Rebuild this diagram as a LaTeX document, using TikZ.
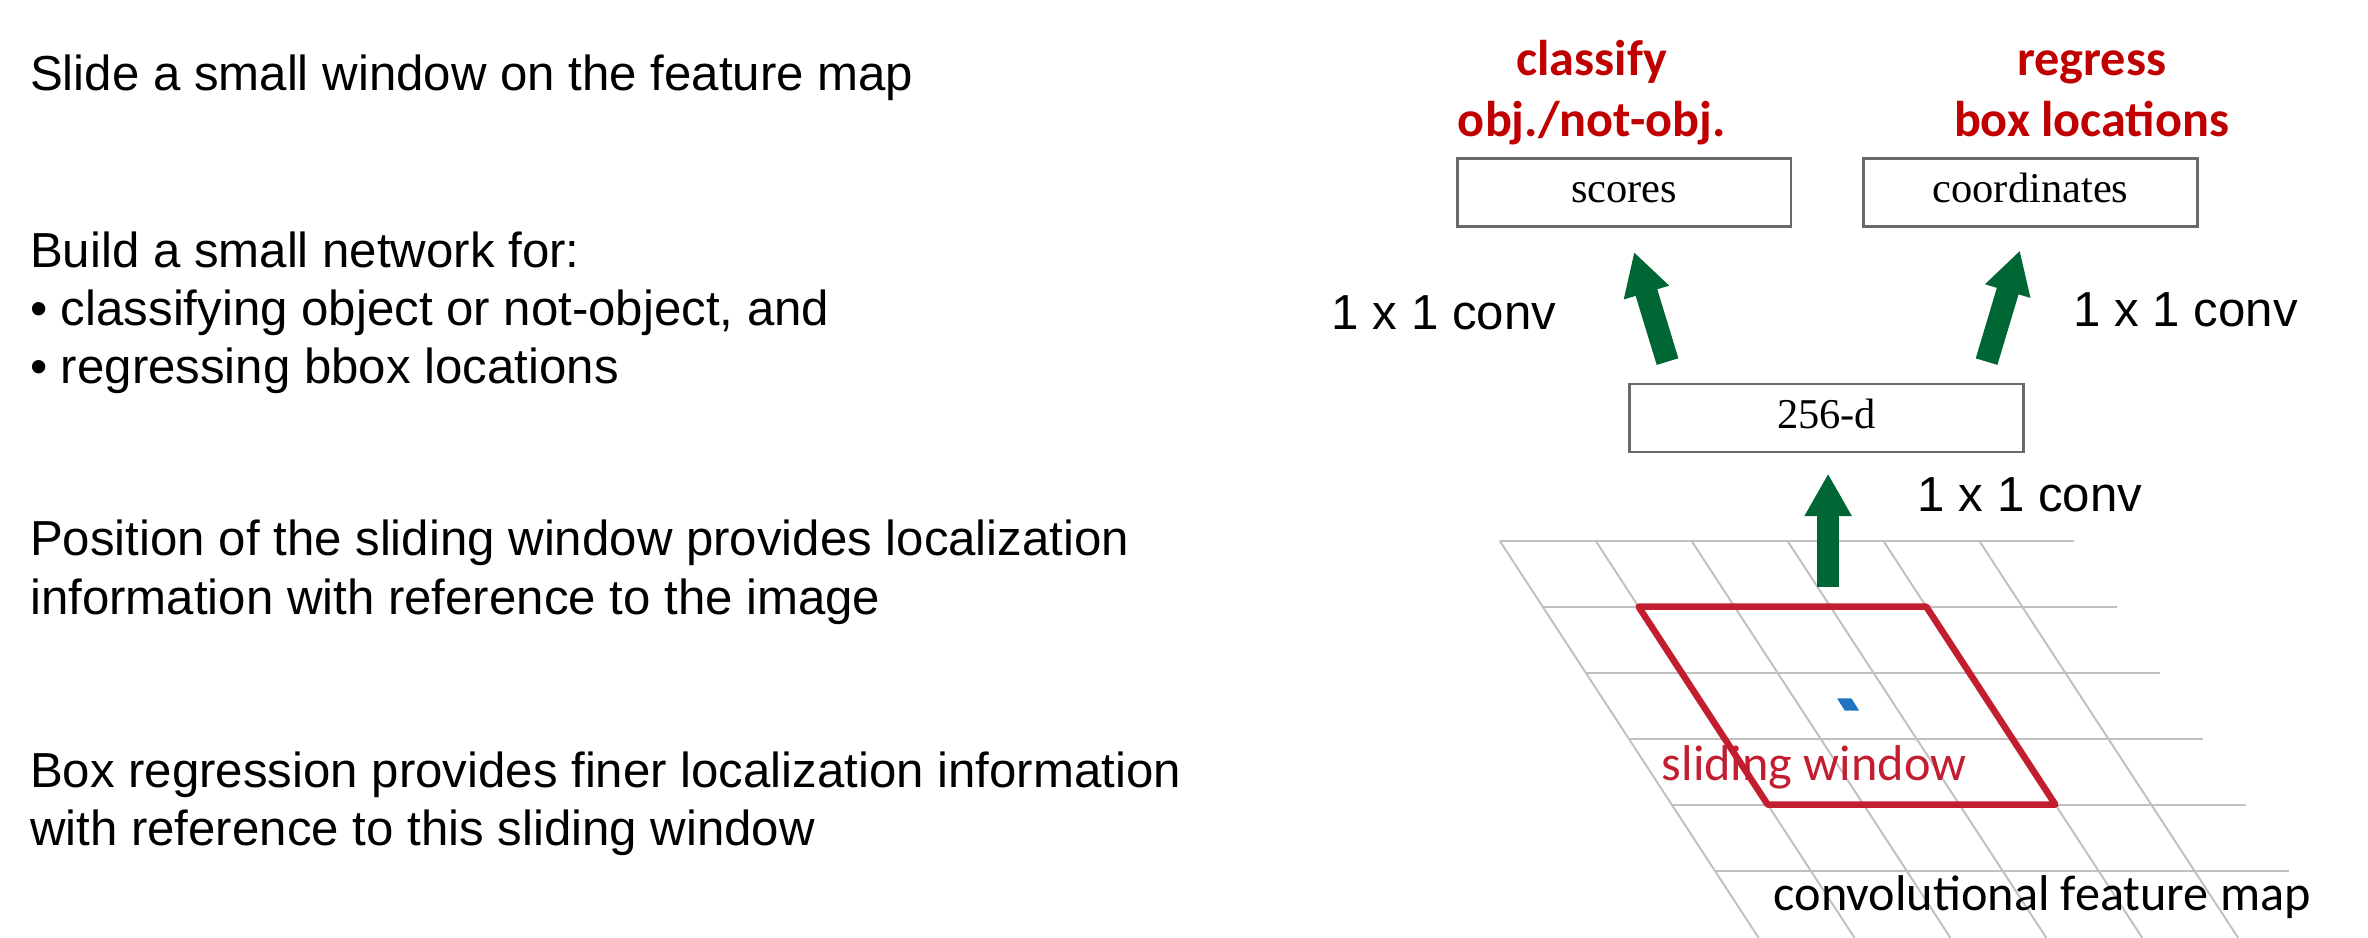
\documentclass[tikz,border=0pt]{standalone}
\usepackage{fontspec}
\setmainfont{Liberation Sans}
\newfontfamily\timesfont{Liberation Serif}
\newfontfamily\calfont{Carlito}
\usepackage{tikz}
\usetikzlibrary{arrows.meta, positioning}
\definecolor{rojo}{RGB}{192, 0, 0}
\definecolor{carmesi}{RGB}{194, 30, 48}
\definecolor{verde}{RGB}{0, 102, 51}
\definecolor{gris}{RGB}{192, 192, 192}
\definecolor{borde}{RGB}{105, 105, 105}
\definecolor{azul}{RGB}{30, 115, 195}
\tikzset{
    txt/.style={anchor=base west, inner sep=0pt, align=left, font=\fontsize{13.9}{16.43}\selectfont},
    caja/.style={draw=borde, line width=0.7pt, inner sep=0pt, minimum height=0.675cm, text height=8pt, text depth=2.3pt, font=\timesfont\fontsize{12}{14}\selectfont},
    rotulo/.style={rojo, align=center, inner sep=0pt, anchor=base, font=\calfont\bfseries\fontsize{14.2}{17.35}\selectfont},
    calib/.style={anchor=base west, inner sep=0pt, font=\calfont\fontsize{14.2}{17}\selectfont},
    flecha/.style={verde, line width=6.4pt, -{Triangle[width=12.5pt, length=12pt]}},
    rejilla/.style={gris, line width=0.55pt},
    ventana/.style={carmesi, line width=1.85pt, line join=round},
}

\begin{document}
\begin{tikzpicture}[x=0.015cm, y=-0.015cm]
        \useasboundingbox (0,0) rectangle (1568,621);

        % left column (base = last line)
        \node [txt] (p1) at (19.5,60) {Slide a small window on the feature map};
        \node [txt] (p2) at (19.5,254) {Build a small network for:\\
            • classifying object or not-object, and\\
            • regressing bbox locations};
        \node [txt] (p3) at (19.5,406.6) {Position of the sliding window provides localization\\
            information with reference to the image};
        \node [txt] (p4) at (19.5,559.8) {Box regression provides finer localization information\\
            with reference to this sliding window};

        % feature map grid
        \foreach \r in {0,...,5}
            \draw [rejilla] ({993+28.5*\r},{358+43.7*\r}) -- ++(380,0);
        \foreach \c in {0,...,5}
            \draw [rejilla] ({993+63.5*\c},358) -- ++(171.5,263);

        \draw [ventana] (1085,401.7) -- (1275.5,401.7) -- (1361,532.8) -- (1170.5,532.8) -- cycle;
        \fill [azul] (1216.5,462.5) -- (1226,462.5) -- (1231,470.5) -- (1221.5,470.5) -- cycle;

        \node [calib, carmesi] (sw) at (1100,517) {sliding window};
        \node [calib] (cfm) at (1174,603) {convolutional feature map};

        % boxes
        \node [caja, minimum width=3.315cm] (sbox) at (1075.5,127.5) {scores};
        \node [caja, minimum width=3.315cm] (cbox) at (1344.5,127.5) {coordinates};
        \node [caja, minimum width=3.915cm] (dbox) at (1209.5,276.75) {256-d};

        \node [rotulo] (cls) at (1054,90.5) {classify\\obj./not-obj.};
        \node [rotulo] (reg) at (1385,90.5) {regress\\box locations};

        \node [txt] (k1) at (881.5,218) {1 x 1 conv};
        \node [txt] (k2) at (1372.5,216.3) {1 x 1 conv};
        \node [txt] (k3) at (1269.5,339) {1 x 1 conv};

        % arrows
        \coordinate (pie) at (1210.5,388.6);
        \draw [flecha] ([shift={(26,-14)}]dbox.north west) -- ([shift={(6.5,16)}]sbox.south);
        \draw [flecha] ([shift={(-25.4,-14)}]dbox.north east) -- ([shift={(-7,15)}]cbox.south);
        \draw [flecha] (pie) -- ([shift={(1,13.5)}]dbox.south);
    \end{tikzpicture}
\end{document}
